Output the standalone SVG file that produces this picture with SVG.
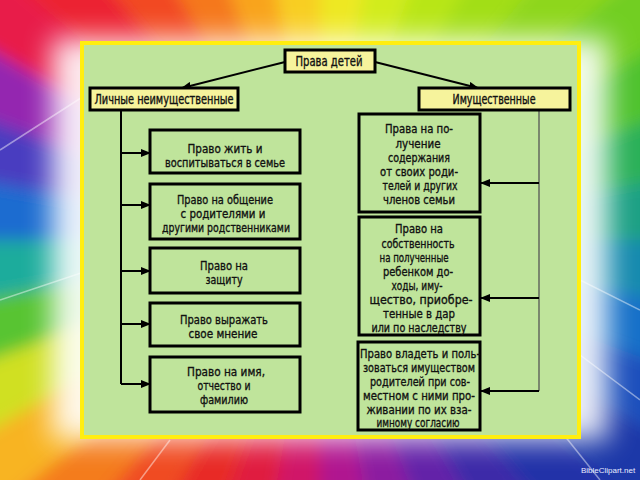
<svg xmlns="http://www.w3.org/2000/svg" width="640" height="480" viewBox="0 0 640 480">
<defs>
<filter id="bl" x="-20%" y="-20%" width="140%" height="140%"><feGaussianBlur stdDeviation="8"/></filter>
<filter id="glow" x="-30%" y="-30%" width="160%" height="160%"><feGaussianBlur stdDeviation="14"/></filter>
<marker id="ah" markerUnits="userSpaceOnUse" markerWidth="10" markerHeight="8" refX="9" refY="4" orient="auto"><path d="M0,0 L10,4 L0,8 Z" fill="#000"/></marker>
<style>
.hd{fill:#f6f39c;stroke:#000;stroke-width:3}
.bx{fill:#bfe49b;stroke:#000;stroke-width:3}
text{font-family:"Liberation Sans Narrow","DejaVu Sans Condensed","Arial Narrow",sans-serif;font-stretch:condensed;font-size:13px;fill:#111;stroke:#111;stroke-width:0.35;text-anchor:middle}
.h{font-size:13.5px}
.ln{stroke:#000;stroke-width:2;fill:none}
.ar{stroke:#000;stroke-width:2;fill:none;marker-end:url(#ah)}
.thin{stroke:#555;stroke-width:1.3;fill:none}
</style>
</defs>
<g id="background">
<rect width="640" height="480" fill="#f0f0f0"/>
<g filter="url(#bl)">
<polygon points="320,240 -200,-60 -140,-146" fill="#e81c48"/>
<polygon points="320,240 -140,-146 -66,-220" fill="#ec2430"/>
<polygon points="320,240 -66,-220 20,-280" fill="#f24a22"/>
<polygon points="320,240 20,-280 115,-324" fill="#f5781e"/>
<polygon points="320,240 115,-324 216,-351" fill="#f9a41e"/>
<polygon points="320,240 216,-351 320,-360" fill="#f8ce20"/>
<polygon points="320,240 320,-360 424,-351" fill="#eee820"/>
<polygon points="320,240 424,-351 525,-324" fill="#d2ec1c"/>
<polygon points="320,240 525,-324 620,-280" fill="#b8e618"/>
<polygon points="320,240 620,-280 706,-220" fill="#a2de18"/>
<polygon points="320,240 706,-220 780,-146" fill="#8ed61a"/>
<polygon points="320,240 780,-146 840,-60" fill="#72ce20"/>
<polygon points="320,240 840,-60 884,35" fill="#50c22e"/>
<polygon points="320,240 884,35 911,136" fill="#2cb058"/>
<polygon points="320,240 911,136 920,240" fill="#1aa084"/>
<polygon points="320,240 920,240 911,344" fill="#168aae"/>
<polygon points="320,240 911,344 884,445" fill="#1870c8"/>
<polygon points="320,240 884,445 840,540" fill="#1a50bc"/>
<polygon points="320,240 840,540 780,626" fill="#1a38a8"/>
<polygon points="320,240 780,626 706,700" fill="#2432a8"/>
<polygon points="320,240 706,700 620,760" fill="#3e2ca8"/>
<polygon points="320,240 620,760 525,804" fill="#6424a8"/>
<polygon points="320,240 525,804 424,831" fill="#8c1ea0"/>
<polygon points="320,240 424,831 320,840" fill="#b01890"/>
<polygon points="320,240 320,840 216,831" fill="#d01868"/>
<polygon points="320,240 216,831 115,804" fill="#e01a40"/>
<polygon points="320,240 115,804 20,760" fill="#e82a28"/>
<polygon points="320,240 20,760 -66,700" fill="#f04c20"/>
<polygon points="320,240 -66,700 -140,626" fill="#f47c1e"/>
<polygon points="320,240 -140,626 -200,540" fill="#f8b420"/>
<polygon points="320,240 -200,540 -244,445" fill="#d0e020"/>
<polygon points="320,240 -244,445 -271,344" fill="#58c430"/>
<polygon points="320,240 -271,344 -280,240" fill="#1eac9c"/>
<polygon points="320,240 -280,240 -271,136" fill="#1a6cd0"/>
<polygon points="320,240 -271,136 -244,35" fill="#4a3cc0"/>
<polygon points="320,240 -244,35 -200,-60" fill="#9428b0"/>
</g>
<rect x="52" y="38" width="556" height="402" fill="#fff" opacity="0.9" filter="url(#glow)"/>
<g stroke="#fff" stroke-opacity="0.45" stroke-width="1.5" fill="none">
<path d="M0,150 L140,60"/>
<path d="M0,300 L90,270"/>
<path d="M640,310 L560,270"/>
<path d="M640,400 L560,340"/>
<path d="M600,480 L560,430"/>
<path d="M140,480 L170,440"/>
</g>
<text x="608" y="473" style="font-family:'Liberation Sans','DejaVu Sans',sans-serif;font-size:8px;fill:#e8ecff;stroke:none;font-stretch:normal">BibleClipart.net</text>
</g>
<g id="panel">
<rect x="82" y="43" width="497" height="394" fill="#bfe49b" stroke="#ffee10" stroke-width="4"/>
</g>
<g id="connectors">
<line class="ar" x1="285" y1="62" x2="182" y2="88"/>
<line class="ar" x1="375" y1="62" x2="478" y2="88"/>
<path class="ln" d="M121,110 V384"/>
<line class="ar" x1="121" y1="153" x2="150" y2="153"/>
<line class="ar" x1="121" y1="205" x2="150" y2="205"/>
<line class="ar" x1="121" y1="271" x2="150" y2="271"/>
<line class="ar" x1="121" y1="324" x2="150" y2="324"/>
<line class="ar" x1="121" y1="384" x2="150" y2="384"/>
<path class="thin" d="M539,110 V391"/>
<line class="ar" x1="539" y1="183" x2="481" y2="183"/>
<line class="ar" x1="539" y1="298" x2="481" y2="298"/>
<line class="ar" x1="539" y1="391" x2="481" y2="391"/>
</g>
<g id="root">
<rect class="hd" x="285" y="50" width="90" height="22"/>
<text class="h" x="329" y="66" textLength="67" lengthAdjust="spacingAndGlyphs" style="font-size:14px">Права детей</text>
</g>
<g id="personal">
<rect class="hd" x="90" y="88" width="148" height="22"/>
<text class="h" x="164" y="104" textLength="139" lengthAdjust="spacingAndGlyphs">Личные неимущественные</text>
</g>
<g id="property">
<rect class="hd" x="419" y="88" width="151" height="22"/>
<text class="h" x="494" y="104" textLength="83" lengthAdjust="spacingAndGlyphs">Имущественные</text>
</g>
<g id="l1">
<rect class="bx" x="150" y="130" width="150" height="43"/>
<text x="225" y="152.5" textLength="75" lengthAdjust="spacingAndGlyphs">Право жить и</text>
<text x="225" y="166.5" textLength="120" lengthAdjust="spacingAndGlyphs">воспитываться в семье</text>
</g>
<g id="l2">
<rect class="bx" x="150" y="184" width="150" height="55"/>
<text x="225" y="203.5" textLength="96" lengthAdjust="spacingAndGlyphs">Право на общение</text>
<text x="223" y="217.5" textLength="85" lengthAdjust="spacingAndGlyphs">с родителями и</text>
<text x="226" y="232" textLength="128" lengthAdjust="spacingAndGlyphs">другими родственниками</text>
</g>
<g id="l3">
<rect class="bx" x="150" y="248" width="150" height="45"/>
<text x="224" y="269.5" textLength="48" lengthAdjust="spacingAndGlyphs">Право на</text>
<text x="224" y="284" textLength="37" lengthAdjust="spacingAndGlyphs">защиту</text>
</g>
<g id="l4">
<rect class="bx" x="150" y="303" width="150" height="43"/>
<text x="224" y="324" textLength="88" lengthAdjust="spacingAndGlyphs">Право выражать</text>
<text x="223" y="337.5" textLength="69" lengthAdjust="spacingAndGlyphs">свое мнение</text>
</g>
<g id="l5">
<rect class="bx" x="150" y="357" width="150" height="55"/>
<text x="226" y="376" textLength="78" lengthAdjust="spacingAndGlyphs">Право на имя,</text>
<text x="224" y="390" textLength="53" lengthAdjust="spacingAndGlyphs">отчество и</text>
<text x="224" y="403.5" textLength="48" lengthAdjust="spacingAndGlyphs">фамилию</text>
</g>
<g id="r1">
<rect class="bx" x="359" y="114" width="121" height="98"/>
<text x="419" y="132.5" textLength="68" lengthAdjust="spacingAndGlyphs">Права на по-</text>
<text x="418" y="147.5" textLength="45" lengthAdjust="spacingAndGlyphs">лучение</text>
<text x="419" y="161.5" textLength="62" lengthAdjust="spacingAndGlyphs">содержания</text>
<text x="419" y="176" textLength="78" lengthAdjust="spacingAndGlyphs">от своих роди-</text>
<text x="420" y="189.5" textLength="75" lengthAdjust="spacingAndGlyphs">телей и других</text>
<text x="419" y="204" textLength="72" lengthAdjust="spacingAndGlyphs">членов семьи</text>
</g>
<g id="r2">
<rect class="bx" x="359" y="217" width="121" height="118"/>
<text x="419" y="232.5" textLength="48" lengthAdjust="spacingAndGlyphs">Право на</text>
<text x="418" y="247.5" textLength="73" lengthAdjust="spacingAndGlyphs">собственность</text>
<text x="414" y="261.5" textLength="69" lengthAdjust="spacingAndGlyphs">на полученные</text>
<text x="418" y="276" textLength="70" lengthAdjust="spacingAndGlyphs">ребенком до-</text>
<text x="417" y="289.5" textLength="51" lengthAdjust="spacingAndGlyphs">ходы, иму-</text>
<text x="421" y="304" textLength="103" lengthAdjust="spacingAndGlyphs">щество, приобре-</text>
<text x="419" y="317.5" textLength="72" lengthAdjust="spacingAndGlyphs">тенные в дар</text>
<text x="419" y="331.5" textLength="95" lengthAdjust="spacingAndGlyphs">или по наследству</text>
</g>
<g id="r3">
<rect class="bx" x="358" y="342" width="122" height="88"/>
<text x="420" y="357.5" textLength="120" lengthAdjust="spacingAndGlyphs">Право владеть и поль-</text>
<text x="419" y="372" textLength="112" lengthAdjust="spacingAndGlyphs">зоваться имуществом</text>
<text x="420" y="386" textLength="100" lengthAdjust="spacingAndGlyphs">родителей при сов-</text>
<text x="419" y="399.5" textLength="112" lengthAdjust="spacingAndGlyphs">местном с ними про-</text>
<text x="419" y="413.5" textLength="105" lengthAdjust="spacingAndGlyphs">живании по их вза-</text>
<text x="418" y="427" textLength="83" lengthAdjust="spacingAndGlyphs">имному согласию</text>
</g>
</svg>
